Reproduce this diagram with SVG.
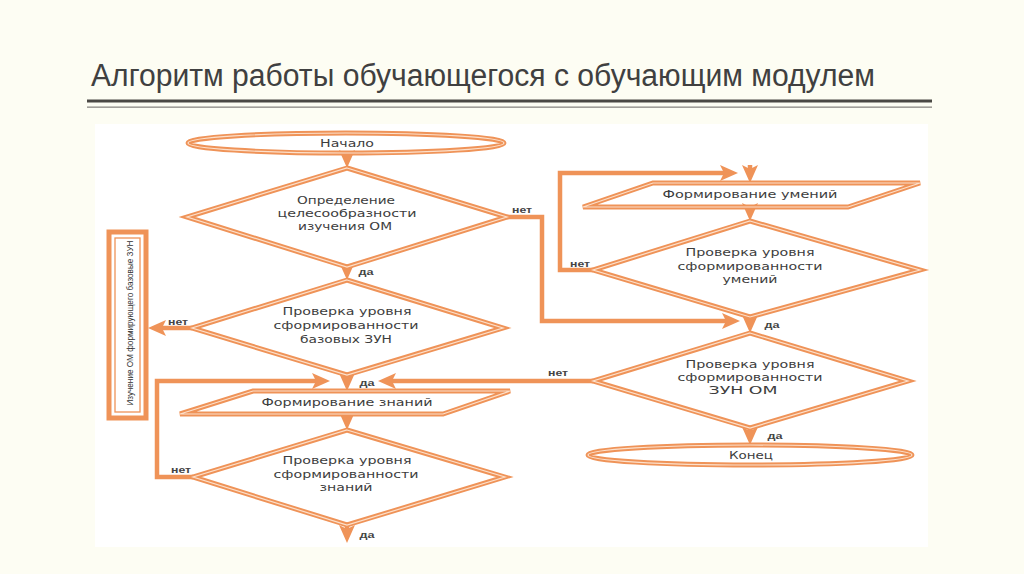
<svg xmlns="http://www.w3.org/2000/svg" width="1024" height="574" viewBox="0 0 1024 574">
<defs>
<style>
.o{fill:none;stroke:#ef9358;stroke-width:5;stroke-linejoin:miter}
.i{fill:none;stroke:#fce0cb;stroke-width:1.2}
.c{fill:none;stroke:#ef9358;stroke-width:4.5;stroke-linejoin:miter}
.t{font-family:"DejaVu Sans",sans-serif;font-size:10.5px;fill:#3d3d3d;text-anchor:middle}
.l{font-family:"Liberation Sans",sans-serif;font-size:9px;font-weight:bold;fill:#444;text-anchor:middle}
</style>
<marker id="ah" markerUnits="userSpaceOnUse" markerWidth="18" markerHeight="16" viewBox="0 0 18 16" refX="10" refY="8" orient="auto">
<path d="M0,0 L18,8 L0,16 L4,8 z" fill="#ef9358"/>
</marker>
</defs>
<rect x="0" y="0" width="1024" height="574" fill="#fdfdf3"/>
<g id="title">
<text x="91" y="86" font-family="Liberation Sans, Arial, sans-serif" font-size="31" fill="#404040" textLength="784" lengthAdjust="spacingAndGlyphs">Алгоритм работы обучающегося с обучающим модулем</text>
<rect x="87" y="99.5" width="845" height="3" fill="#4a4844"/>
<rect x="87" y="106.5" width="845" height="1.3" fill="#8a8884"/>
</g>
<rect x="95" y="124" width="833" height="423" fill="#ffffff"/>
<g id="connectors">
<path class="c" d="M347,153 V160" marker-end="url(#ah)"/>
<path class="c" d="M347,267 V272" marker-end="url(#ah)"/>
<path class="c" d="M192,328 H156" marker-end="url(#ah)"/>
<path class="c" d="M347,375 V383" marker-end="url(#ah)"/>
<path class="c" d="M507,217 H542 V321 H732" marker-end="url(#ah)"/>
<path class="c" d="M750,207 V213" marker-end="url(#ah)"/>
<path class="c" d="M593,270 H560 V173 H730" marker-end="url(#ah)"/>
<path class="c" d="M750,165 V175" marker-end="url(#ah)"/>
<path class="c" d="M750,317 V325" marker-end="url(#ah)"/>
<path class="c" d="M593,381 H386" marker-end="url(#ah)"/>
<path class="c" d="M750,428 V437" marker-end="url(#ah)"/>
<path class="c" d="M347,414 V422" marker-end="url(#ah)"/>
<path class="c" d="M193,477 H157 V381 H322" marker-end="url(#ah)"/>
<path class="c" d="M347,525 V535" marker-end="url(#ah)"/>
<text class="l" x="366" y="275" textLength="15" lengthAdjust="spacingAndGlyphs">да</text>
<text class="l" x="178" y="325" textLength="20" lengthAdjust="spacingAndGlyphs">нет</text>
<text class="l" x="367" y="386" textLength="15" lengthAdjust="spacingAndGlyphs">да</text>
<text class="l" x="522" y="213" textLength="20" lengthAdjust="spacingAndGlyphs">нет</text>
<text class="l" x="580" y="267" textLength="20" lengthAdjust="spacingAndGlyphs">нет</text>
<text class="l" x="772" y="328" textLength="15" lengthAdjust="spacingAndGlyphs">да</text>
<text class="l" x="558" y="376" textLength="20" lengthAdjust="spacingAndGlyphs">нет</text>
<text class="l" x="775" y="439" textLength="15" lengthAdjust="spacingAndGlyphs">да</text>
<text class="l" x="181" y="473" textLength="20" lengthAdjust="spacingAndGlyphs">нет</text>
<text class="l" x="367" y="538" textLength="15" lengthAdjust="spacingAndGlyphs">да</text>
</g>
<g id="start">
<ellipse class="o" cx="346" cy="143" rx="158" ry="10"/>
<ellipse class="i" cx="346" cy="143" rx="158" ry="10"/>
<text class="t" x="347" y="146.5" textLength="54" lengthAdjust="spacingAndGlyphs">Начало</text>
</g>
<g id="d1">
<polygon class="o" points="347,168 507,217 347,267 187,217"/>
<polygon class="i" points="347,168 507,217 347,267 187,217"/>
<text class="t" x="346" y="204" textLength="98" lengthAdjust="spacingAndGlyphs">Определение</text>
<text class="t" x="347" y="217" textLength="139" lengthAdjust="spacingAndGlyphs">целесообразности</text>
<text class="t" x="345" y="230" textLength="94" lengthAdjust="spacingAndGlyphs">изучения ОМ</text>
</g>
<g id="d2">
<polygon class="o" points="347,280 503,328 347,375 192,328"/>
<polygon class="i" points="347,280 503,328 347,375 192,328"/>
<text class="t" x="347" y="315" textLength="129" lengthAdjust="spacingAndGlyphs">Проверка уровня</text>
<text class="t" x="346" y="329" textLength="145" lengthAdjust="spacingAndGlyphs">сформированности</text>
<text class="t" x="346" y="343" textLength="92" lengthAdjust="spacingAndGlyphs">базовых ЗУН</text>
</g>
<g id="box">
<rect class="o" x="109" y="232" width="37" height="186"/>
<rect x="115" y="238" width="25" height="174" fill="none" stroke="#ef9358" stroke-width="1.3"/>
<text x="130" y="326" transform="rotate(-90 130 323)" font-family="Liberation Sans, Arial, sans-serif" font-size="9" fill="#333" text-anchor="middle" textLength="165" lengthAdjust="spacingAndGlyphs">Изучение ОМ формирующего базовые ЗУН</text>
</g>
<g id="p1">
<polygon class="o" points="253,391 510,391 443,414 180,414"/>
<polygon class="i" points="253,391 510,391 443,414 180,414"/>
<text class="t" x="347" y="406" textLength="171" lengthAdjust="spacingAndGlyphs">Формирование знаний</text>
</g>
<g id="d4">
<polygon class="o" points="347,430 505,477 347,525 193,477"/>
<polygon class="i" points="347,430 505,477 347,525 193,477"/>
<text class="t" x="347" y="464" textLength="129" lengthAdjust="spacingAndGlyphs">Проверка уровня</text>
<text class="t" x="346" y="478" textLength="145" lengthAdjust="spacingAndGlyphs">сформированности</text>
<text class="t" x="346" y="491" textLength="53" lengthAdjust="spacingAndGlyphs">знаний</text>
</g>
<g id="p2">
<polygon class="o" points="653,183 920,183 848,207 583,207"/>
<polygon class="i" points="653,183 920,183 848,207 583,207"/>
<text class="t" x="750" y="198" textLength="175" lengthAdjust="spacingAndGlyphs">Формирование умений</text>
</g>
<g id="d3">
<polygon class="o" points="750,221 920,270 750,317 593,270"/>
<polygon class="i" points="750,221 920,270 750,317 593,270"/>
<text class="t" x="750" y="256" textLength="129" lengthAdjust="spacingAndGlyphs">Проверка уровня</text>
<text class="t" x="750" y="270" textLength="145" lengthAdjust="spacingAndGlyphs">сформированности</text>
<text class="t" x="750" y="283" textLength="55" lengthAdjust="spacingAndGlyphs">умений</text>
</g>
<g id="d5">
<polygon class="o" points="750,333 908,381 750,428 593,381"/>
<polygon class="i" points="750,333 908,381 750,428 593,381"/>
<text class="t" x="750" y="368" textLength="129" lengthAdjust="spacingAndGlyphs">Проверка уровня</text>
<text class="t" x="750" y="381" textLength="145" lengthAdjust="spacingAndGlyphs">сформированности</text>
<text class="t" x="743" y="394" textLength="69" lengthAdjust="spacingAndGlyphs">ЗУН ОМ</text>
</g>
<g id="end">
<ellipse class="o" cx="750" cy="455" rx="162" ry="10"/>
<ellipse class="i" cx="750" cy="455" rx="162" ry="10"/>
<text class="t" x="751" y="459" textLength="44" lengthAdjust="spacingAndGlyphs">Конец</text>
</g>
</svg>
